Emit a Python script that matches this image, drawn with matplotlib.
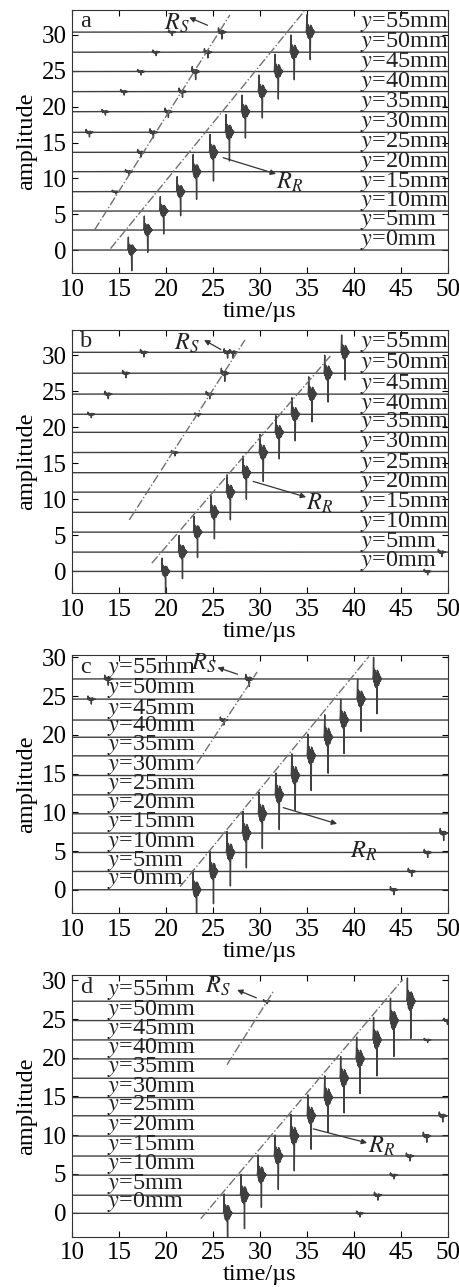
import numpy as np
import matplotlib
matplotlib.use("Agg")
import matplotlib.pyplot as plt

plt.rcParams['font.family'] = ['Liberation Serif', 'DejaVu Serif']
plt.rcParams['mathtext.fontset'] = 'stix'

# receiver positions (mm)
y_mm = [0, 5, 10, 15, 20, 25, 30, 35, 40, 45, 50, 55]
panels = ['a', 'b', 'c', 'd']

# trace baselines
base_a = [0, 2.79, 5.44, 8.14, 10.93, 13.63, 16.42, 19.3, 22.1, 24.9, 27.6, 30.4]
base_b = [0, 2.68, 5.45, 8.2, 11.0, 13.7, 16.5, 19.3, 21.8, 24.6, 27.5, 30.4]
base_c = [0, 2.36, 4.81, 7.31, 9.8, 12.25, 14.74, 17.28, 19.68, 21.9, 24.6, 27.2]
base_d = [-0.1, 2.24, 4.83, 7.3, 9.88, 12.5, 14.85, 17.35, 19.85, 22.3, 24.8, 27.3]

# Rayleigh wave arrival times (us)
tR_a = [16.0, 17.7, 19.4, 21.2, 22.9, 24.7, 26.4, 28.1, 29.9, 31.6, 33.3, 35.0]
tR_b = [19.6, 21.4, 23.0, 24.8, 26.5, 28.2, 30.0, 31.7, 33.4, 35.2, 36.9, 38.7]
tR_c = [22.9, 24.7, 26.5, 28.2, 29.9, 31.7, 33.4, 35.1, 36.9, 38.6, 40.4, 42.1]
tR_d = [26.2, 28.0, 29.8, 31.6, 33.3, 35.1, 36.9, 38.6, 40.3, 42.1, 43.9, 45.7]

# Rayleigh wave peak amplitudes
aR_a = [1.8, 1.95, 2.0, 2.1, 2.4, 2.5, 2.5, 2.3, 2.3, 2.4, 2.4, 2.4]
aR_b = [1.85, 2.3, 2.2, 2.3, 2.4, 2.3, 2.5, 2.3, 2.3, 2.4, 2.5, 2.4]
aR_c = [2.5, 2.6, 2.7, 2.8, 2.8, 2.8, 2.8, 2.8, 2.9, 2.7, 2.6, 2.8]
aR_d = [2.5, 2.7, 2.6, 2.7, 2.8, 2.7, 2.8, 2.8, 2.8, 2.9, 2.9, 3.0]

# smaller arrivals: (trace index, time, amplitude)
blips_a = [(11, 20.3, 0.3), (11, 25.6, 0.6), (10, 18.6, 0.3), (10, 24.1, 0.5),
           (9, 17.0, 0.3), (9, 22.8, 0.7), (8, 15.2, 0.3), (8, 21.4, 0.5),
           (7, 13.2, 0.3), (7, 19.9, 0.5), (6, 11.5, 0.4), (6, 18.3, 0.5),
           (5, 17.0, 0.4), (4, 15.7, 0.3), (3, 14.3, 0.2)]
blips_b = [(11, 17.3, 0.4), (11, 26.2, 0.5), (11, 26.8, 0.5), (10, 15.4, 0.4),
           (10, 25.9, 0.7), (9, 13.5, 0.4), (9, 24.3, 0.4), (8, 11.7, 0.3),
           (8, 23.1, 0.2), (6, 20.6, 0.3), (1, 49.0, 0.4), (0, 47.5, 0.3)]
blips_c = [(11, 13.5, 0.5), (11, 28.5, 0.6), (10, 11.7, 0.4), (9, 25.8, 0.4),
           (3, 49.2, 0.6), (2, 47.5, 0.4), (1, 45.8, 0.4), (0, 43.9, 0.4)]
blips_d = [(11, 30.4, 0.2), (10, 49.6, 0.3), (9, 47.5, 0.2), (5, 49.1, 0.5),
           (4, 47.4, 0.5), (3, 45.6, 0.4), (2, 43.9, 0.3), (1, 42.2, 0.4),
           (0, 40.3, 0.3)]

# dash-dot guide lines (x0, y0, x1, y1)
sline = [(12.4, 2.8, 26.8, 32.8), (16.1, 7.15, 28.4, 32.1),
         (23.3, 16.3, 29.7, 28.1), (26.5, 19.1, 31.5, 28.7)]
rline = [(14.1, 0.2, 34.7, 33.3), (18.5, 1.15, 37.5, 29.9),
         (21.5, 0.4, 41.6, 30.1), (23.7, -0.8, 45.2, 30.1)]

# annotation text / arrow head / arrow tail
rs_text = [(21.2, 31.6), (22.2, 31.6), (24.0, 29.2), (25.5, 29.2)]
rs_head = [(22.2, 32.6), (23.8, 32.3), (25.2, 28.8), (27.3, 28.9)]
rs_tail = [(24.7, 31.2), (26.1, 30.6), (27.9, 27.7), (29.9, 27.6)]
rr_text = [(33.2, 9.5), (36.4, 9.5), (41.0, 4.9), (42.9, 8.5)]
rr_head = [(32.0, 10.5), (35.2, 10.2), (38.5, 8.4), (41.7, 8.9)]
rr_tail = [(25.8, 13.0), (29.0, 12.6), (32.2, 10.7), (35.4, 10.9)]

ylims = [(-3.2, 33.5), (-3.0, 33.5), (-3.0, 30.3), (-3.15, 30.7)]
label_x = [40.7, 40.7, 13.7, 13.7]

# wavelet shape (normalised), sample step 0.04 us
wavelet = [0, 0.2, 1.0, -0.15, 0.45, -0.3, 0.4, -0.35, 0.3, -0.4, 0.2, -1.6,
           0.4, -0.25, 0.35, -0.3, 0.25, -0.2, 0.15, -0.12, 0.1, -0.06,
           0.04, 0]
wdt = 0.04

bases = [base_a, base_b, base_c, base_d]
tRs = [tR_a, tR_b, tR_c, tR_d]
aRs = [aR_a, aR_b, aR_c, aR_d]
blips = [blips_a, blips_b, blips_c, blips_d]

t = np.arange(10, 50.001, 0.004)
wt = np.arange(len(wavelet)) * wdt


def add_wave(sig, t0, amp):
    # t0 is the time of the positive peak
    sig += amp * np.interp(t - t0 + 2 * wdt, wt, wavelet, left=0, right=0)


fig = plt.figure(figsize=(4.6, 12.87), dpi=100)
rects = [[0.1565, 0.7879, 0.817, 0.2044],
         [0.1565, 0.5392, 0.817, 0.2044],
         [0.1565, 0.2906, 0.817, 0.2005],
         [0.1565, 0.0389, 0.817, 0.2036]]

fs = 17.5
for k in range(4):
    ax = fig.add_axes(rects[k])
    for i in range(len(y_mm)):
        sig = np.zeros_like(t)
        add_wave(sig, tRs[k][i], aRs[k][i])
        for (j, tb, ab) in blips[k]:
            if j == i:
                add_wave(sig, tb, ab)
        ax.plot(t, sig + bases[k][i], color='#404040', lw=1.0)
        ax.text(label_x[k], bases[k][i] + 1.4, '$y$=%dmm' % y_mm[i],
                fontsize=fs, ha='left', va='center', color='#222222')

    x0, y0, x1, y1 = sline[k]
    ax.plot([x0, x1], [y0, y1], '-.', color='#707070', lw=1.0)
    x0, y0, x1, y1 = rline[k]
    ax.plot([x0, x1], [y0, y1], '-.', color='#707070', lw=1.0)

    ax.text(rs_text[k][0], rs_text[k][1], '$R_S$', fontsize=fs,
            ha='center', va='center', color='#222222')
    ax.annotate('', xy=rs_head[k], xytext=rs_tail[k],
                arrowprops=dict(arrowstyle='-|>', color='#333333', lw=0.9,
                                mutation_scale=8))
    ax.text(rr_text[k][0], rr_text[k][1], '$R_R$', fontsize=fs,
            ha='center', va='center', color='#222222')
    ax.annotate('', xy=rr_head[k], xytext=rr_tail[k],
                arrowprops=dict(arrowstyle='-|>', color='#333333', lw=0.9,
                                mutation_scale=8))

    ax.text(10.9, ylims[k][1] - 1.6, panels[k], fontsize=fs, ha='left',
            va='center', color='#222222')

    ax.set_xlim(10, 50)
    ax.set_ylim(*ylims[k])
    ax.set_xticks(np.arange(10, 51, 5))
    ax.set_yticks(np.arange(0, 31, 5))
    ax.tick_params(direction='in', top=True, right=True, labelsize=18,
                   length=4, pad=4)
    ax.set_xlabel('time/µs', fontsize=fs, labelpad=0)
    ax.set_ylabel('amplitude', fontsize=fs, labelpad=3)
    for s in ax.spines.values():
        s.set_color('#333333')

fig.savefig('out.png', dpi=100)
